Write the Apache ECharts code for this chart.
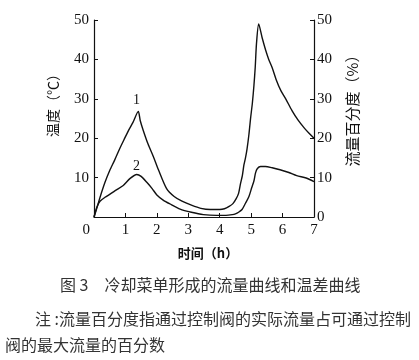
<!DOCTYPE html>
<html>
<head>
<meta charset="utf-8">
<script src="https://cdn.jsdelivr.net/npm/echarts@6/dist/echarts.min.js"></script>
<style>
html,body{margin:0;padding:0;background:#fff;}
#c{width:419px;height:360px;}
</style>
</head>
<body>
<div id="c"></div>
<script>
// time (h) and values for curve 1
const curve1T = [0, 0.1, 0.2, 0.35, 0.5, 0.66, 0.82, 0.99, 1.1, 1.24, 1.41, 1.47, 1.57, 1.72, 1.89, 2.05, 2.31, 2.55, 2.8, 3.1, 3.4, 3.7, 4.0, 4.15, 4.3, 4.42, 4.52, 4.6, 4.66, 4.72, 4.77, 4.82, 4.87, 4.93, 4.98, 5.04, 5.09, 5.13, 5.17, 5.24, 5.35, 5.46, 5.56, 5.67, 5.8, 5.95, 6.1, 6.3, 6.5, 6.7, 6.85, 7.0];
const curve1V = [0, 2.5, 5.2, 8.8, 11.8, 14.5, 17.4, 20.2, 22, 24, 26.8, 24.5, 21.9, 18.5, 15.3, 12, 7.2, 5.2, 4.0, 3.0, 2.2, 1.9, 1.9, 2.1, 2.7, 3.4, 4.6, 6, 8.4, 10.5, 13.2, 15, 17.3, 21, 24.9, 29, 33.5, 38, 44, 49, 45.5, 42.4, 40, 37.9, 34.8, 32, 30, 27, 24.5, 22.5, 21.2, 20];
// time (h) and values for curve 2
const curve2T = [0, 0.09, 0.19, 0.35, 0.51, 0.7, 0.93, 1.15, 1.36, 1.5, 1.68, 1.85, 2.0, 2.2, 2.42, 2.74, 3.1, 3.48, 3.9, 4.2, 4.4, 4.5, 4.6, 4.71, 4.82, 4.93, 5.02, 5.09, 5.14, 5.2, 5.3, 5.45, 5.67, 5.92, 6.2, 6.45, 6.75, 7.0];
const curve2V = [0, 2.5, 4.0, 5.0, 5.8, 6.8, 8.0, 9.8, 10.8, 10.3, 8.8, 7.2, 5.6, 4.3, 3.3, 2.0, 1.2, 0.6, 0.4, 0.4, 0.6, 0.8, 1.2, 1.9, 3.5, 5.2, 7.5, 9.2, 11.2, 12.3, 12.8, 12.8, 12.5, 12.0, 11.3, 10.5, 9.9, 9.0];
const xTicks = [0, 1, 2, 3, 4, 5, 6, 7];
const yTicks = [0, 10, 20, 30, 40, 50];
const curveNames = ['1', '2'];

const leftName = '温度（℃）';
const rightName = '流量百分度（%）';
const xName = '时间（h）';
const caption = '图 3　冷却菜单形成的流量曲线和温差曲线';
const note1 = '注 :流量百分度指通过控制阀的实际流量占可通过控制';
const note2 = '阀的最大流量的百分数';

const zip = (a, b) => a.map((t, i) => [t, b[i]]);
const serif = 'Liberation Serif';
const cjk = 'Noto Sans CJK SC';
const ink = '#111';

const chart = echarts.init(document.getElementById('c'), null, {renderer: 'canvas'});

const yBase = {
  type: 'value', min: yTicks[0], max: yTicks[yTicks.length - 1], interval: 10,
  axisLine: {show: true, lineStyle: {color: ink, width: 1.2}},
  axisTick: {show: true, inside: true, length: 4, lineStyle: {color: ink}},
  splitLine: {show: false},
  axisLabel: {fontFamily: serif, fontSize: 15, color: ink}
};

chart.setOption({
  backgroundColor: '#fff',
  animation: false,
  grid: {left: 94, right: 105, top: 20, bottom: 143},
  xAxis: {
    type: 'value', min: xTicks[0], max: xTicks[xTicks.length - 1], interval: 1,
    axisLine: {show: true, lineStyle: {color: ink, width: 1.2}},
    axisTick: {show: true, inside: true, length: 4, lineStyle: {color: ink}},
    splitLine: {show: false},
    axisLabel: {fontFamily: serif, fontSize: 15, color: ink, margin: 6,
      alignMinLabel: 'right',
      formatter: v => v === 0 ? '{o|0}' : String(v),
      rich: {o: {fontFamily: serif, fontSize: 15, color: ink, padding: [0, 4, 0, 0]}}}
  },
  yAxis: [
    Object.assign({}, yBase, {position: 'left',
      axisLabel: Object.assign({}, yBase.axisLabel, {margin: 5, formatter: v => v === 0 ? '' : String(v)})}),
    Object.assign({}, yBase, {position: 'right',
      axisLabel: Object.assign({}, yBase.axisLabel, {margin: 3})})
  ],
  series: [
    {
      name: curveNames[0], type: 'line', yAxisIndex: 0, data: zip(curve1T, curve1V),
      showSymbol: false, smooth: 0.25,
      lineStyle: {color: ink, width: 1.4},
      markPoint: {symbol: 'circle', symbolSize: 0,
        label: {show: true, position: 'inside', formatter: curveNames[0], fontFamily: serif, fontSize: 14, color: ink},
        data: [{coord: [1.35, 29.6], value: curveNames[0]}]}
    },
    {
      name: curveNames[1], type: 'line', yAxisIndex: 0, data: zip(curve2T, curve2V),
      showSymbol: false, smooth: 0.25,
      lineStyle: {color: ink, width: 1.4},
      markPoint: {symbol: 'circle', symbolSize: 0,
        label: {show: true, position: 'inside', formatter: curveNames[1], fontFamily: serif, fontSize: 14, color: ink},
        data: [{coord: [1.35, 12.9], value: curveNames[1]}]}
    }
  ],
  graphic: [
    {type: 'text', x: 53, y: 102, rotation: Math.PI / 2,
      style: {text: leftName, font: '14px "' + cjk + '"', fill: ink, textAlign: 'center', textVerticalAlign: 'middle'}},
    {type: 'text', x: 352, y: 107, rotation: Math.PI / 2,
      style: {text: rightName, font: '15px "' + cjk + '"', fill: ink, textAlign: 'center', textVerticalAlign: 'middle'}},
    {type: 'text', x: 208, y: 253,
      style: {text: xName, font: 'bold 13px "' + cjk + '"', fill: ink, textAlign: 'center', textVerticalAlign: 'middle'}},
    {type: 'text', x: 60, y: 285,
      style: {text: caption, font: '16px "' + cjk + '"', fill: '#333', textAlign: 'left', textVerticalAlign: 'middle'}},
    {type: 'text', x: 35, y: 319,
      style: {text: note1, font: '16px "' + cjk + '"', fill: '#333', textAlign: 'left', textVerticalAlign: 'middle'}},
    {type: 'text', x: 5, y: 345,
      style: {text: note2, font: '16px "' + cjk + '"', fill: '#333', textAlign: 'left', textVerticalAlign: 'middle'}}
  ]
});
</script>
</body>
</html>
